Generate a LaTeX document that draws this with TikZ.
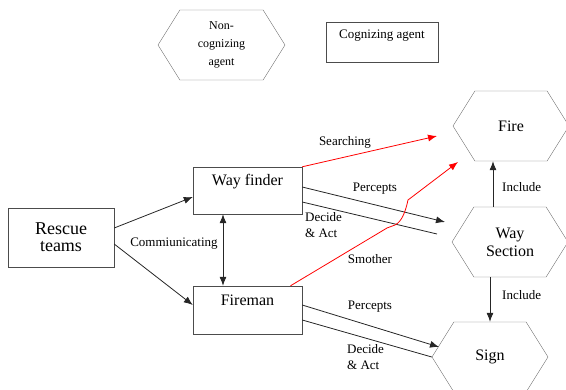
\documentclass[tikz,border=0pt]{standalone}
\usepackage{fontspec}
\setmainfont{LiberationSerif-Regular.ttf}
\usepackage{tikz}
\usetikzlibrary{positioning, arrows.meta, shapes.symbols}

\begin{document}
\begin{tikzpicture}[
    x=1pt, y=-1pt,
    agent/.style={rectangle, draw=black!70, minimum width=109pt, minimum height=47pt, inner ysep=4pt, text height=15pt, text depth=24pt, font=\fontsize{16}{18}\selectfont},
    object/.style={signal, signal to=east and west, signal pointer angle=116, draw=black!55, minimum width=116pt, minimum height=70pt, inner sep=1pt, align=center, font=\fontsize{16}{18}\selectfont},
    label/.style={font=\fontsize{13}{16}\selectfont, align=left, inner sep=0pt},
    arrow/.style={-{Latex[length=9pt,width=7pt]}, black!85, thick},
    line/.style={black!85, thick},
    redarrow/.style={-{Latex[length=9pt,width=7pt]}, red, thick}
]
    \useasboundingbox (0,0) rectangle (566,390);

    % Legend
    \node[object, minimum width=127pt, font=\fontsize{12}{18}\selectfont] (nca) at (221.5,45) {Non-\\cognizing\\agent};
    \node[rectangle, draw=black!70, minimum width=112pt, minimum height=40pt, inner ysep=4pt, text height=13pt, text depth=19pt, font=\fontsize{13}{16}\selectfont] (ca) at (382,42) {Cognizing agent};

    % Components
    \node[rectangle, draw=black!70, minimum width=106pt, minimum height=59pt, align=center, font=\fontsize{18}{17}\selectfont] (rt) at (61,237.5) {Rescue\\teams};
    \node[agent] (wf) at (247.5,190.5) {Way finder};
    \node[agent, text height=16pt] (fm) at (247.5,310) {Fireman};
    \node[object] (fire) at (511,126) {Fire};
    \node[object] (ws) at (510,242) {Way\\Section};
    \node[object] (sign) at (490,357) {Sign};

    % Free ends
    \coordinate (srtip) at (437,136);
    \coordinate (smtip) at (458,162);
    \coordinate (wfptip) at (445,222);
    \coordinate (wfdend) at (437,234);
    \coordinate (fmptip) at (439,347);

    % Arrows
    \draw[arrow] ([yshift=9.5pt]rt.east) -- ([yshift=-6.5pt]wf.west);
    \draw[arrow] ([yshift=-6.5pt]rt.east) -- ([yshift=5pt]fm.west);
    \draw[arrow, <->, >={Latex[length=9pt,width=7pt]}] ([xshift=-24.5pt]wf.south) -- ([xshift=-24.5pt]fm.north);
    \draw[redarrow] (wf.north east) -- (srtip);
    \draw[arrow] ([yshift=3.5pt]wf.east) -- (wfptip);
    \draw[line] ([yshift=-11.5pt]wf.east) -- (wfdend);
    \draw[redarrow] ([xshift=43pt]fm.north) -- (387,228) -- (395,225) .. controls (401,222) and (405,214) .. (408,200) -- (smtip);
    \draw[arrow] ([yshift=5pt]fm.east) -- (fmptip);
    \draw[line] ([yshift=-10pt]fm.east) -- (sign.west);
    \draw[arrow] ([xshift=-17pt]ws.north) -- ([xshift=-17pt]ws.north |- fire.south);
    \draw[arrow] (ws.south -| sign.north) -- (sign.north);

    % Labels
    \node[label] (comm) at (174,244) {Commiunicating};
    \node[label] (srlab) at (345,142) {Searching};
    \node[label] (wfplab) at (375,189) {Percepts};
    \node[label, anchor=west] (wfdlab) at (305,225) {Decide\\\& Act};
    \node[label] (smlab) at (370,259) {Smother};
    \node[label] (fmplab) at (370,307) {Percepts};
    \node[label, anchor=west] (fmdlab) at (347,357) {Decide\\\& Act};
    \node[label, anchor=west] (inc1) at (502,187) {Include};
    \node[label, anchor=west] (inc2) at (502,295) {Include};
\end{tikzpicture}
\end{document}
